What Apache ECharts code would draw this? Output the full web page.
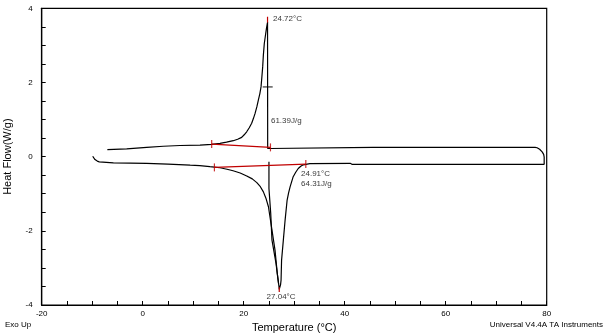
<!DOCTYPE html>
<html><head><meta charset="utf-8">
<script src="https://cdn.jsdelivr.net/npm/echarts@6/dist/echarts.min.js"></script>
<style>html,body{margin:0;padding:0;background:#fff}#c{width:609px;height:333px}</style>
</head><body><div id="c"></div>
<script>
// Heating run (lower trace, endotherm)
var heatingCurve = [[-9.9,0.01],[-9.7,-0.04],[-9.45,-0.08],[-9.0,-0.12],[-8.6,-0.14],[-5.8,-0.17],[0.8,-0.18],[5,-0.20],[9.4,-0.23],[11.3,-0.24],[13.3,-0.27],[14.2,-0.28],[15.3,-0.30],[16.7,-0.34],[17.9,-0.38],[19.3,-0.44],[20.6,-0.52],[21.7,-0.60],[22.6,-0.70],[23.3,-0.81],[23.9,-0.95],[24.4,-1.12],[24.9,-1.35],[25.5,-1.89],[26.2,-2.52],[26.65,-3.15],[26.99,-3.51],[27.04,-3.58],[27.3,-3.45],[27.4,-3.33],[27.5,-2.79],[27.85,-2.25],[28.2,-1.71],[28.6,-1.17],[28.9,-0.97],[29.2,-0.81],[29.8,-0.54],[30.3,-0.42],[30.8,-0.32],[31.3,-0.26],[31.8,-0.22],[33.1,-0.19],[41.1,-0.18],[41.5,-0.21],[79.5,-0.21]];
// Cooling run (upper trace, exotherm), drawn from 80 °C leftwards
var coolingCurve = [[79.5,-0.21],[79.5,-0.01],[79.4,0.06],[79.1,0.13],[78.6,0.20],[78.1,0.24],[77.7,0.25],[45.6,0.25],[45.4,0.23],[25.3,0.22],[24.75,0.22],[24.72,3.63],[24.5,3.45],[24.36,3.32],[24.08,3.05],[23.9,2.75],[23.76,2.42],[23.6,2.15],[23.43,1.88],[23.2,1.70],[22.89,1.52],[22.6,1.34],[22.24,1.16],[21.9,1.02],[21.58,0.90],[21.1,0.78],[20.59,0.67],[20.1,0.59],[19.6,0.52],[18.8,0.47],[17.94,0.43],[16.6,0.39],[15.3,0.36],[13.66,0.33],[11.35,0.31],[7.39,0.30],[4.08,0.28],[0.79,0.25],[-3.17,0.21],[-7.0,0.19]];
// second strand near the endotherm onset
var onsetStrand = [[25.0,-0.14],[25.0,-0.86],[25.35,-1.53],[25.6,-2.25],[26.4,-2.88],[26.9,-3.42]];
// integration baselines (red)
var exoBaseline = [[13.66,0.34],[25.3,0.25]];
var endoBaseline = [[14.2,-0.29],[32.3,-0.20]];
var limitTicks = [[13.66,0.34],[25.3,0.25],[14.2,-0.29],[32.3,-0.20]];
var peakMarkTop = [[24.72,3.62],[24.72,3.77]];
var peakMarkBottom = [[27.04,-3.52],[27.04,-3.65]];
var halfCross = [[24.75,1.88]];
// annotation texts
var annotLeft = [
  {value:[25.8,3.71], text:'24.72°C'},
  {value:[25.4,0.96], text:'61.39J/g'},
  {value:[31.35,-0.46], text:'24.91°C'},
  {value:[31.35,-0.73], text:'64.31J/g'}
];
var annotCenter = [{value:[27.4,-3.79], text:'27.04°C'}];
var xTicks = {min:-20, max:80, interval:20};
var yTicks = {min:-4, max:4, interval:2};

var FONT = 'Liberation Sans';
var chart = echarts.init(document.getElementById('c'), null, {renderer:'canvas'});
function line(data, color, w){
  return {type:'line', data:data, showSymbol:false, symbol:'none', silent:true, animation:false,
    lineStyle:{color:color, width:w||1.2}, z:3};
}
chart.setOption({
  backgroundColor:'#fff',
  animation:false,
  grid:{left:41.7, right:62.3, top:8.3, bottom:28, containLabel:false, outerBoundsMode:'none',
    show:true, borderColor:'#000', borderWidth:1.2, backgroundColor:'transparent'},
  xAxis:{type:'value', min:xTicks.min, max:xTicks.max, interval:xTicks.interval,
    name:'Temperature (°C)', nameLocation:'middle', nameGap:16,
    nameTextStyle:{fontFamily:FONT, fontSize:11, color:'#000'},
    axisLine:{show:true, onZero:false, lineStyle:{color:'#000', width:1.2}},
    axisTick:{show:true, inside:true, length:4, lineStyle:{color:'#000'}},
    minorTick:{show:true, splitNumber:4, length:4, lineStyle:{color:'#000'}},
    axisLabel:{fontFamily:FONT, fontSize:8, color:'#000', margin:5},
    splitLine:{show:false}},
  yAxis:{type:'value', min:yTicks.min, max:yTicks.max, interval:yTicks.interval,
    name:'Heat Flow(W/g)', nameLocation:'middle', nameGap:28,
    nameTextStyle:{fontFamily:FONT, fontSize:11, color:'#000'},
    axisLine:{show:true, onZero:false, lineStyle:{color:'#000', width:1.2}},
    axisTick:{show:true, inside:true, length:4, lineStyle:{color:'#000'}},
    minorTick:{show:true, splitNumber:4, length:4, lineStyle:{color:'#000'}},
    axisLabel:{fontFamily:FONT, fontSize:8, color:'#000', margin:9},
    splitLine:{show:false}},
  series:[
    line(heatingCurve,'#000'),
    line(coolingCurve,'#000'),
    line(onsetStrand,'#000'),
    line(exoBaseline,'#c00000'),
    line(endoBaseline,'#c00000'),
    line(peakMarkTop,'#c00000'),
    line(peakMarkBottom,'#c00000'),
    {type:'scatter', data:limitTicks, symbol:'rect', symbolSize:[1.2,8], itemStyle:{color:'#c00000'}, silent:true, z:4},
    {type:'scatter', data:halfCross, symbol:'rect', symbolSize:[10,1.2], itemStyle:{color:'#000'}, silent:true, z:4},
    {type:'scatter', data:annotLeft.map(function(a){return {value:a.value, label:{formatter:a.text}};}),
      symbolSize:0, silent:true, z:5,
      label:{show:true, position:'right', distance:0, fontFamily:FONT, fontSize:8, color:'#000'}},
    {type:'scatter', data:annotCenter.map(function(a){return {value:a.value, label:{formatter:a.text}};}),
      symbolSize:0, silent:true, z:5,
      label:{show:true, position:'inside', fontFamily:FONT, fontSize:8, color:'#000'}}
  ],
  graphic:[
    {type:'text', left:5, top:321, style:{text:'Exo Up', fontFamily:FONT, fontSize:8, fill:'#000'}},
    {type:'text', right:6, top:321, style:{text:'Universal V4.4A TA Instruments', fontFamily:FONT, fontSize:8, fill:'#000'}}
  ]
});
</script></body></html>
